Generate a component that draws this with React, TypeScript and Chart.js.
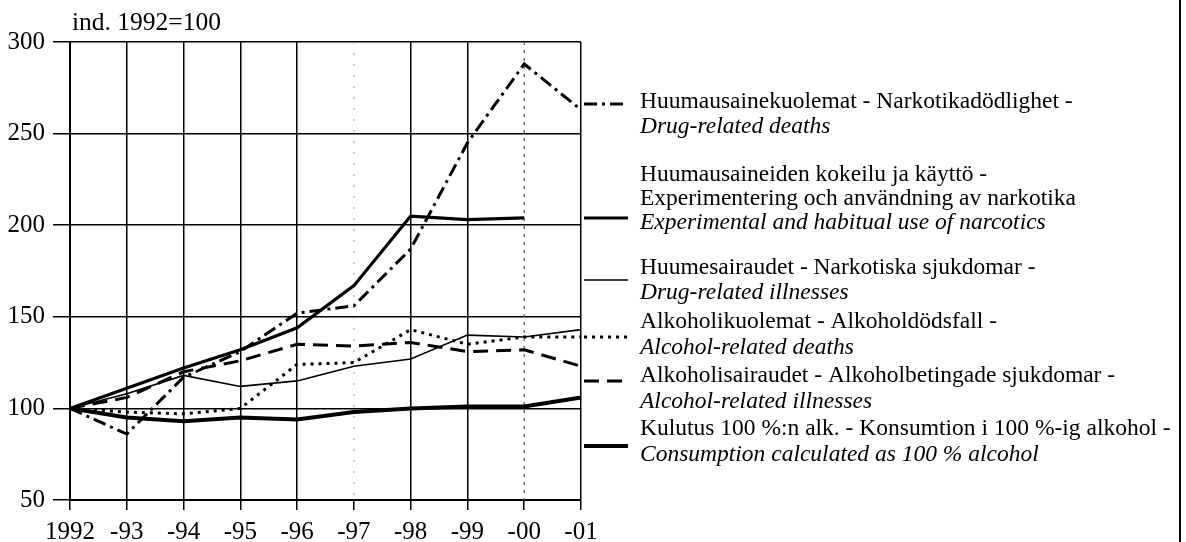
import React, { useEffect, useRef } from "react";
import { Chart, registerables } from "chart.js";

Chart.register(...registerables);

const years = ["1992", "-93", "-94", "-95", "-96", "-97", "-98", "-99", "-00", "-01"];
const drugDeaths = [100, 86, 117, 131, 152, 156, 187, 245, 288, 263];
const drugUse = [100, 111, 122, 132, 144, 167, 205, 203, 204, null];
const drugIllness = [100, 108, 118, 112, 115, 123, 127, 140, 139, 143];
const alcDeaths = [100, 98, 97, 100, 124, 125, 143, 135, 139, 139];
const alcIllness = [100, 106, 120, 126, 135, 134, 136, 131, 132, 123];
const consumption = [100, 95, 93, 95, 94, 98, 100, 101, 101, 106];

const yTicks = [50, 100, 150, 200, 250, 300];
const fadedGridYears = ["-97", "-00"];
const axisTitle = "ind. 1992=100";

const legendEntries = [
  { lines: ["Huumausainekuolemat - Narkotikadödlighet -"], italic: ["Drug-related deaths"], textY: 102, sampleY: 104, gap: 24.5 },
  { lines: ["Huumausaineiden kokeilu ja käyttö -", "Experimentering och användning av narkotika"], italic: ["Experimental and habitual use of narcotics"], textY: 175, sampleY: 218, gap: 24 },
  { lines: ["Huumesairaudet - Narkotiska sjukdomar -"], italic: ["Drug-related illnesses"], textY: 268, sampleY: 280, gap: 25 },
  { lines: ["Alkoholikuolemat - Alkoholdödsfall -"], italic: ["Alcohol-related deaths"], textY: 322, sampleY: 337, gap: 25.5 },
  { lines: ["Alkoholisairaudet - Alkoholbetingade sjukdomar -"], italic: ["Alcohol-related illnesses"], textY: 376, sampleY: 381, gap: 25.5 },
  { lines: ["Kulutus 100 %:n alk. - Konsumtion i 100 %-ig alkohol -"], italic: ["Consumption calculated as 100 % alcohol"], textY: 429, sampleY: 446, gap: 25.5 },
];

const FONT = "'Liberation Serif', 'Times New Roman', serif";

const styles = [
  { width: 3, dash: [13, 5, 3, 5] },
  { width: 3.2, dash: [] },
  { width: 1.6, dash: [] },
  { width: 3, dash: [3, 5] },
  { width: 3, dash: [15, 8] },
  { width: 4, dash: [] },
];

export default function App() {
  const ref = useRef<HTMLCanvasElement | null>(null);
  useEffect(() => {
    const canvas = ref.current!;
    const series = [drugDeaths, drugUse, drugIllness, alcDeaths, alcIllness, consumption];
    const overlay = {
      id: "overlay",
      beforeDatasetsDraw(chart: any) {
        const ctx = chart.ctx;
        const xs = chart.scales.x;
        const area = chart.chartArea;
        ctx.save();
        ctx.lineWidth = 1.2;
        fadedGridYears.forEach((y, k) => {
          const i = years.indexOf(y);
          const x = xs.getPixelForTick(i);
          ctx.strokeStyle = k === 0 ? "#aaa" : "#555";
          ctx.setLineDash(k === 0 ? [2, 9] : [3, 5]);
          ctx.beginPath();
          ctx.moveTo(x, area.top);
          ctx.lineTo(x, area.bottom);
          ctx.stroke();
        });
        ctx.restore();
      },
      afterDraw(chart: any) {
        const ctx = chart.ctx;
        ctx.save();
        ctx.fillStyle = "#000";
        ctx.textBaseline = "middle";
        ctx.textAlign = "left";
        ctx.font = `25.5px ${FONT}`;
        ctx.fillText(axisTitle, 72, 23);
        legendEntries.forEach((e, i) => {
          const st = styles[i];
          ctx.save();
          ctx.strokeStyle = "#000";
          ctx.lineWidth = st.width;
          ctx.setLineDash(st.dash);
          ctx.lineCap = "butt";
          ctx.beginPath();
          ctx.moveTo(584, e.sampleY);
          ctx.lineTo(628, e.sampleY);
          ctx.stroke();
          ctx.restore();
          let y = e.textY;
          ctx.font = `23.5px ${FONT}`;
          e.lines.forEach((l) => {
            ctx.fillText(l, 640, y);
            y += e.gap;
          });
          ctx.font = `italic 23.5px ${FONT}`;
          e.italic.forEach((l) => {
            ctx.fillText(l, 640, y);
            y += e.gap;
          });
        });
        ctx.fillRect(1179, 0, 2, 542);
        ctx.restore();
      },
    };
    const chart = new Chart(canvas, {
      type: "line",
      data: {
        labels: years,
        datasets: series.map((d, i) => ({
          label: legendEntries[i].lines[0],
          data: d,
          borderColor: "#000",
          borderWidth: styles[i].width,
          borderDash: styles[i].dash,
          borderCapStyle: "butt",
          pointRadius: 0,
          tension: 0,
          spanGaps: false,
          fill: false,
        })),
      },
      options: {
        animation: false,
        responsive: false,
        devicePixelRatio: 1,
        layout: { padding: { left: 0, right: 605, top: 42, bottom: 0 } },
        plugins: { legend: { display: false }, tooltip: { enabled: false }, title: { display: false } },
        scales: {
          x: {
            type: "category",
            offset: false,
            afterFit: (s: any) => { s.height = 42; },
            grid: {
              color: (c: any) => (fadedGridYears.includes(years[c.index]) ? "rgba(0,0,0,0)" : "#000"),
              tickColor: "#000",
              lineWidth: 1.5,
              tickLength: 10,
              drawTicks: true,
            },
            border: { display: true, color: "#000", width: 2 },
            ticks: { color: "#000", font: { family: FONT, size: 25 }, padding: 7, maxRotation: 0, autoSkip: false },
          },
          y: {
            min: 50,
            max: 300,
            afterFit: (s: any) => { s.width = 70; },
            afterBuildTicks: (s: any) => { s.ticks = yTicks.map((v) => ({ value: v })); },
            grid: { color: "#000", tickColor: "#000", lineWidth: 1.5, tickLength: 17 },
            border: { display: true, color: "#000", width: 2 },
            ticks: { color: "#000", font: { family: FONT, size: 25 }, padding: 8 },
          },
        },
      },
      plugins: [overlay],
    } as any);
    return () => chart.destroy();
  }, []);
  return (
    <div style={{ position: "fixed", left: 0, top: 0, width: 1186, height: 542, background: "#fff" }}>
      <canvas ref={ref} width={1186} height={542} style={{ width: 1186, height: 542 }} />
    </div>
  );
}
